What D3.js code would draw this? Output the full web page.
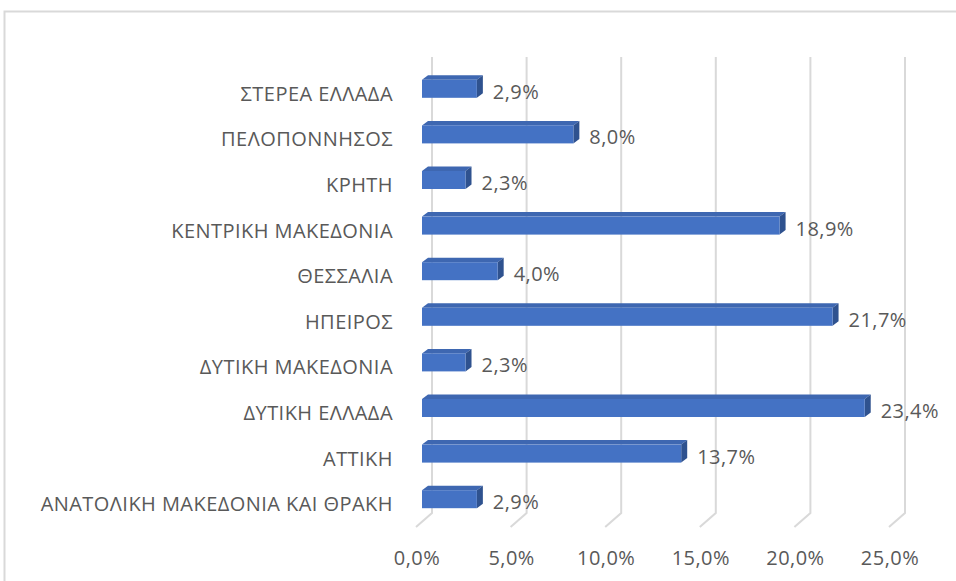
<!DOCTYPE html>
<html>
<head>
<meta charset="utf-8">
<script src="https://cdn.jsdelivr.net/npm/d3@7"></script>
<style>
  body { margin: 0; background: #fff; }
  text { font-family: "Open Sans", "Noto Sans", sans-serif; fill: #595959; }
</style>
</head>
<body>
<div id="wrapper"></div>
<script>
var regions = ["ΣΤΕΡΕΑ ΕΛΛΑΔΑ", "ΠΕΛΟΠΟΝΝΗΣΟΣ", "ΚΡΗΤΗ", "ΚΕΝΤΡΙΚΗ ΜΑΚΕΔΟΝΙΑ", "ΘΕΣΣΑΛΙΑ",
  "ΗΠΕΙΡΟΣ", "ΔΥΤΙΚΗ ΜΑΚΕΔΟΝΙΑ", "ΔΥΤΙΚΗ ΕΛΛΑΔΑ", "ΑΤΤΙΚΗ", "ΑΝΑΤΟΛΙΚΗ ΜΑΚΕΔΟΝΙΑ ΚΑΙ ΘΡΑΚΗ"];
var shares = [2.9, 8.0, 2.3, 18.9, 4.0, 21.7, 2.3, 23.4, 13.7, 2.9];
var ticks = [0, 5, 10, 15, 20, 25];

var width = 956, height = 581;
var depthX = 6, depthY = 4.5, barH = 18;
var fontSize = "20px", spacing = "0.45px";

var fmt = function(v) { return d3.format(".1f")(v).replace(".", ",") + "%"; };

var svg = d3.select("#wrapper").append("svg")
  .attr("width", width)
  .attr("height", height);

// outer frame (top + left only visible)
svg.append("path")
  .attr("d", "M4.5,600 L4.5,11.5 L960,11.5")
  .attr("fill", "none")
  .attr("stroke", "#d9d9d9")
  .attr("stroke-width", 2);

// back wall scale, bar front scale, floor front scale
var xBack = d3.scaleLinear().domain([0, 25]).range([432, 905]);
var xBar = d3.scaleLinear().domain([0, 25]).range([422, 895]);
var xFloor = d3.scaleLinear().domain([0, 25]).range([417, 890]);

var y = d3.scaleBand().domain(regions).range([66, 522]);

// gridlines: back wall vertical + floor diagonal
var grid = svg.append("g");
grid.selectAll("path")
  .data(ticks)
  .enter()
  .append("path")
  .attr("d", function(d) {
    return "M" + xBack(d) + ",57 L" + xBack(d) + ",513 L" + (xBack(d) - 16) + ",527";
  })
  .attr("fill", "none")
  .attr("stroke", "#d9d9d9")
  .attr("stroke-width", 2);

// axis labels
svg.selectAll("text.tick")
  .data(ticks)
  .enter()
  .append("text")
  .attr("class", "tick")
  .attr("x", function(d) { return xFloor(d); })
  .attr("y", 565)
  .attr("text-anchor", "middle")
  .style("font-size", fontSize)
  .style("letter-spacing", spacing)
  .text(function(d) { return fmt(d); });

// 3d bars
var bars = svg.selectAll("g.bar")
  .data(regions)
  .enter()
  .append("g")
  .attr("class", "bar");

function barTop(d) { return y(d) + y.bandwidth() / 2 - barH / 2; }

// top face
bars.append("path")
  .attr("d", function(d, i) {
    var x0 = xBar(0), x1 = xBar(shares[i]), t = barTop(d);
    return "M" + x0 + "," + t + " L" + (x0 + depthX) + "," + (t - depthY) +
      " L" + (x1 + depthX) + "," + (t - depthY) + " L" + x1 + "," + t + "Z";
  })
  .attr("fill", "#3E67B1");

// side face
bars.append("path")
  .attr("d", function(d, i) {
    var x1 = xBar(shares[i]), t = barTop(d);
    return "M" + x1 + "," + t + " L" + (x1 + depthX) + "," + (t - depthY) +
      " L" + (x1 + depthX) + "," + (t - depthY + barH) + " L" + x1 + "," + (t + barH) + "Z";
  })
  .attr("fill", "#2F528F");

// front face
bars.append("rect")
  .attr("x", xBar(0))
  .attr("y", function(d) { return barTop(d); })
  .attr("width", function(d, i) { return xBar(shares[i]) - xBar(0); })
  .attr("height", barH)
  .attr("fill", "#4472C4");

// value labels
svg.selectAll("text.label")
  .data(regions)
  .enter()
  .append("text")
  .attr("class", "label")
  .attr("x", function(d, i) { return xBar(shares[i]) + depthX + 10; })
  .attr("y", function(d) { return y(d) + y.bandwidth() / 2 + 10; })
  .style("font-size", fontSize)
  .style("letter-spacing", spacing)
  .text(function(d, i) { return fmt(shares[i]); });

// category labels
svg.selectAll("text.name")
  .data(regions)
  .enter()
  .append("text")
  .attr("class", "name")
  .attr("x", 393)
  .attr("y", function(d) { return y(d) + y.bandwidth() / 2 + 12; })
  .attr("text-anchor", "end")
  .style("font-size", fontSize)
  .style("letter-spacing", spacing)
  .text(function(d) { return d; });
</script>
</body>
</html>
